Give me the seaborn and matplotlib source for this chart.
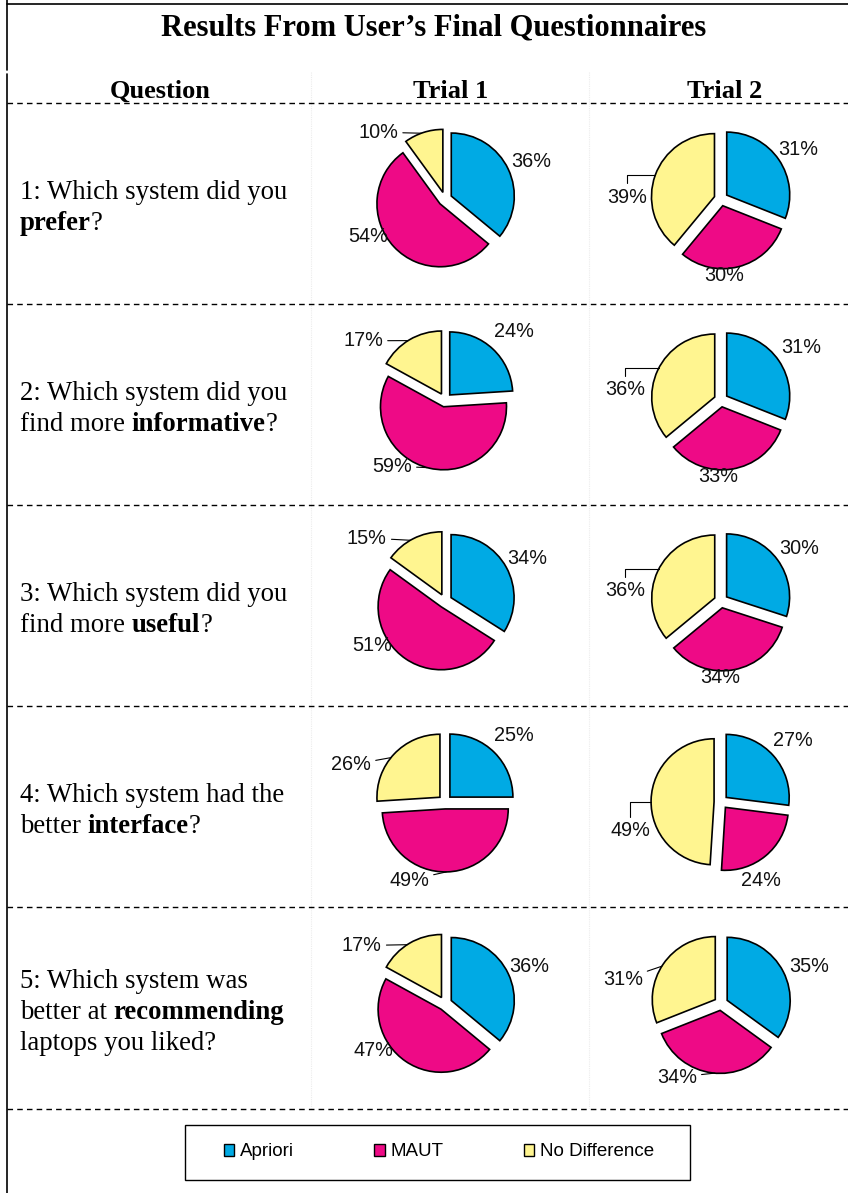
import matplotlib
matplotlib.use("Agg")
import numpy as np
import matplotlib.pyplot as plt
import seaborn as sns
from matplotlib.lines import Line2D
from matplotlib.patches import Rectangle, Patch

# ---------------- data ----------------
categories = ["Apriori", "MAUT", "No Difference"]
trial_names = ["Trial 1", "Trial 2"]

trial1_apriori = [36, 24, 34, 25, 36]
trial1_maut = [54, 59, 51, 49, 47]
trial1_nodiff = [10, 17, 15, 26, 17]

trial2_apriori = [31, 31, 30, 27, 35]
trial2_maut = [30, 33, 34, 24, 34]
trial2_nodiff = [39, 36, 36, 49, 31]

# question text, one list of (text, bold) runs per line
questions = [
    [[("1: Which system did you", False)], [("prefer", True), ("?", False)]],
    [[("2: Which system did you", False)],
     [("find more ", False), ("informative", True), ("?", False)]],
    [[("3: Which system did you", False)],
     [("find more ", False), ("useful", True), ("?", False)]],
    [[("4: Which system had the", False)],
     [("better ", False), ("interface", True), ("?", False)]],
    [[("5: Which system was", False)],
     [("better at ", False), ("recommending", True)],
     [("laptops you liked?", False)]],
]

# ---------------- label layout (in pie-radius units) ----------------
label_xy = {
    (0, 0): [(1.37, 0.59), (-1.22, -0.60), (-1.06, 1.06)],
    (0, 1): [(1.22, 0.78), (0.05, -1.22), (-1.49, 0.03)],
    (1, 0): [(1.10, 1.08), (-0.84, -1.05), (-1.30, 0.94)],
    (1, 1): [(1.27, 0.84), (-0.05, -1.21), (-1.52, 0.16)],
    (2, 0): [(1.30, 0.68), (-1.16, -0.70), (-1.24, 1.00)],
    (2, 1): [(1.24, 0.84), (-0.02, -1.22), (-1.52, 0.16)],
    (3, 0): [(1.10, 1.06), (-0.57, -1.24), (-1.49, 0.59)],
    (3, 1): [(1.14, 0.98), (0.63, -1.24), (-1.44, -0.46)],
    (4, 0): [(1.33, 0.59), (-1.13, -0.75), (-1.32, 0.92)],
    (4, 1): [(1.40, 0.59), (-0.70, -1.17), (-1.56, 0.38)],
}
# leader lines: (row, trial, slice) -> (style, attach angle on the arc in degrees)
leaders = {
    (0, 0, 2): ("straight", 110), (0, 1, 2): ("elbow", 160),
    (1, 0, 2): ("straight", 122), (1, 0, 1): ("straight", -105),
    (1, 1, 2): ("elbow", 153),
    (2, 0, 2): ("straight", 120), (2, 1, 2): ("elbow", 153),
    (3, 0, 2): ("straight", 141), (3, 0, 1): ("straight", -89),
    (3, 1, 2): ("elbow", 180),
    (4, 0, 2): ("straight", 123), (4, 1, 2): ("straight", 148),
    (4, 1, 1): ("straight", -95),
}

# ---------------- style ----------------
sns.set_theme(style="white")
plt.rcParams["font.family"] = ["Liberation Sans", "DejaVu Sans"]
plt.rcParams["text.color"] = "black"
palette = sns.color_palette(["#00AAE4", "#EE0A86", "#FFF590"])

W, H = 848, 1193
fig = plt.figure(figsize=(W / 100, H / 100), dpi=100)
fig.patch.set_facecolor("white")


def fx(x):
    return x / W


def fy(y):
    return 1 - y / H


serif = ["Liberation Serif", "DejaVu Serif"]

# frame lines
fig.add_artist(Line2D([fx(7), 1], [fy(4), fy(4)], color="black", lw=1.2,
                      transform=fig.transFigure))
fig.add_artist(Line2D([fx(7), fx(7)], [fy(0), fy(70)], color="black", lw=1.2,
                      transform=fig.transFigure))
fig.add_artist(Line2D([fx(7), fx(7)], [fy(74), fy(H)], color="black", lw=1.2,
                      transform=fig.transFigure))
for xv in (311, 589):
    fig.add_artist(Line2D([fx(xv), fx(xv)], [fy(72), fy(1108)], color="#ececec",
                          lw=0.8, ls=(0, (1, 1)), transform=fig.transFigure))

row_lines = [103, 304, 505, 706, 907, 1109]
for yv in row_lines:
    fig.add_artist(Line2D([fx(7), 1], [fy(yv), fy(yv)], color="black", lw=1.0,
                          ls=(0, (4, 3)), transform=fig.transFigure))

# title and headers
fig.text(fx(434), fy(35), "Results From User\u2019s Final Questionnaires",
         ha="center", va="baseline", fontsize=22, fontweight="bold", family=serif)
for txt, xc in zip(["Question"] + trial_names, [160, 451, 725]):
    fig.text(fx(xc), fy(98), txt, ha="center", va="baseline", fontsize=19,
             fontweight="bold", family=serif)

# question text, drawn run by run so bold words sit inline
renderer = fig.canvas.get_renderer()
line_gap = 31.5
for r, lines in enumerate(questions):
    row_mid = (row_lines[r] + row_lines[r + 1]) / 2 + 2.5
    first = row_mid - (len(lines) - 1) * line_gap / 2 + 8.5
    for li, runs in enumerate(lines):
        x = 20.0
        base = first + li * line_gap
        for s, bold in runs:
            t = fig.text(fx(x), fy(base), s, ha="left", va="baseline",
                         fontsize=19.3, family=serif,
                         fontweight="bold" if bold else "normal")
            x = t.get_window_extent(renderer).x1

# ---------------- pies ----------------
trial_data = [
    list(zip(trial1_apriori, trial1_maut, trial1_nodiff)),
    list(zip(trial2_apriori, trial2_maut, trial2_nodiff)),
]
R_PX = 63.0
AX_W, AX_H = 270.0, 196.0
centers_x = [445, 721]
LABEL_FS = 14.3
for r in range(5):
    cy = (row_lines[r] + row_lines[r + 1]) / 2 - 4.5
    for t in range(2):
        cx = centers_x[t]
        ax = fig.add_axes([fx(cx - AX_W / 2), fy(cy + AX_H / 2), AX_W / W, AX_H / H])
        vals = trial_data[t][r]
        wedges, _ = ax.pie(vals, colors=palette, startangle=90, counterclock=False,
                           explode=[0.11] * 3, radius=1.0,
                           wedgeprops=dict(edgecolor="black", linewidth=1.2))
        ax.set_xlim(-AX_W / 2 / R_PX, AX_W / 2 / R_PX)
        ax.set_ylim(-AX_H / 2 / R_PX, AX_H / 2 / R_PX)
        ax.set_aspect("equal", adjustable="box")
        ax.axis("off")
        for i, (w, v) in enumerate(zip(wedges, vals)):
            lx, ly = label_xy[(r, t)][i]
            key = (r, t, i)
            if key in leaders:
                style, ang = leaders[key]
                a = np.deg2rad(ang)
                px = w.center[0] + w.r * np.cos(a)
                py = w.center[1] + w.r * np.sin(a)
                cs = "angle,angleA=90,angleB=0,rad=0" if style == "elbow" else "arc3"
                ax.annotate(f"{v}%", xy=(px, py), xytext=(lx, ly),
                            ha="center", va="center", fontsize=LABEL_FS, color="#111111",
                            arrowprops=dict(arrowstyle="-", color="black", lw=0.8,
                                            connectionstyle=cs, shrinkA=1, shrinkB=0))
            else:
                ax.text(lx, ly, f"{v}%", ha="center", va="center", fontsize=LABEL_FS,
                        color="#111111")

# ---------------- legend ----------------
fig.add_artist(Rectangle((fx(185), fy(1180)), 505 / W, 55 / H, fill=False,
                         edgecolor="black", lw=1.0, transform=fig.transFigure))
handles = [Patch(facecolor=c, edgecolor="black", lw=1.0) for c in palette]
fig.legend(handles, categories, loc="center", bbox_to_anchor=(fx(439), fy(1152)),
           ncol=3, frameon=False, fontsize=13.5, handlelength=0.55, handleheight=0.55,
           handletextpad=0.3, columnspacing=4.3, borderpad=0)

fig.savefig("out.png", dpi=100, facecolor="white")
